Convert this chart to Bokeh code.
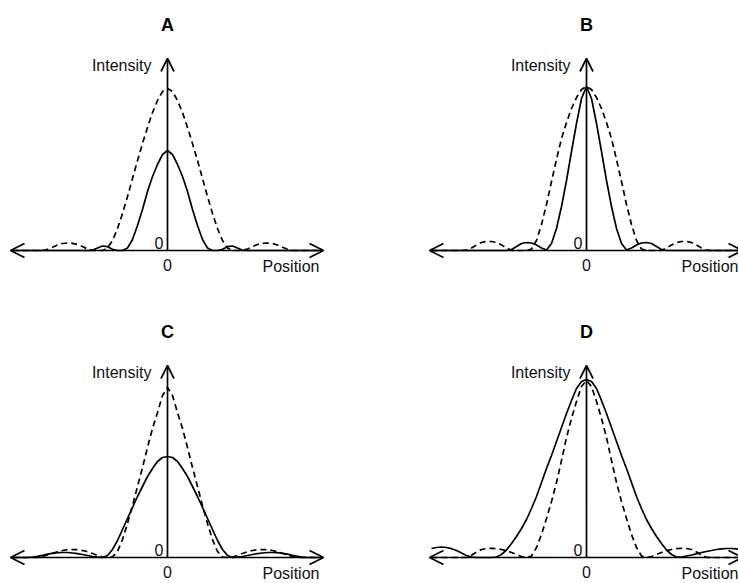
from bokeh.plotting import figure
from bokeh.models import Range1d, Arrow, OpenHead
from bokeh.layouts import gridplot
from bokeh.embed import file_html
from bokeh.resources import INLINE
from bokeh.core.properties import value

# ---------------- data ----------------
panel_labels = ["A", "B", "C", "D"]
x_axis_label = "Position"
y_axis_label = "Intensity"
zero_label = "0"

# distance from the central axis (position units); curves are symmetric
offset = [0, 0.5, 1.0, 1.5, 2.0, 2.5, 3.0, 3.5, 4.0, 4.5, 5.0, 5.5, 6.0, 6.5, 7.0, 7.5,
          8.0, 8.5, 9.0, 9.5, 10.0, 10.5, 11.0, 11.5, 12.0, 12.5, 13.0, 13.5, 14.0, 14.5, 15.0, 15.5]

a_dashed = [16.2, 15.9, 15.0, 13.8, 12.3, 10.7, 9.0, 7.2, 5.4, 3.7, 2.2, 1.0, 0.25, 0.0, 0.0, 0.02,
            0.15, 0.4, 0.6, 0.72, 0.75, 0.7, 0.55, 0.33, 0.12, 0.0, 0, 0, 0, 0, 0, 0]
a_solid = [10.0, 9.6, 8.6, 7.4, 5.9, 4.1, 2.5, 1.1, 0.25, 0.0, 0.0, 0.12, 0.38, 0.45, 0.25, 0.02,
           0, 0, 0, 0, 0, 0, 0, 0, 0, 0, 0, 0, 0, 0, 0, 0]

b_dashed = [16.4, 16.1, 15.3, 14.2, 12.8, 11.2, 9.1, 6.9, 4.6, 2.6, 1.0, 0.15, 0, 0, 0, 0.02,
            0.25, 0.55, 0.8, 0.9, 0.9, 0.8, 0.55, 0.25, 0.03, 0, 0, 0, 0, 0, 0, 0]
b_solid = [16.4, 15.2, 12.7, 9.9, 7.0, 4.4, 2.2, 0.7, 0.05, 0.25, 0.55, 0.75, 0.8, 0.7, 0.4, 0.1,
           0, 0, 0, 0, 0, 0, 0, 0, 0, 0, 0, 0, 0, 0, 0, 0]

c_dashed = [17.0, 16.2, 14.5, 12.9, 11.0, 9.0, 7.1, 5.2, 3.4, 1.8, 0.6, 0.05, 0, 0.05, 0.2, 0.4,
            0.58, 0.7, 0.78, 0.8, 0.78, 0.7, 0.58, 0.42, 0.25, 0.1, 0.02, 0, 0, 0, 0, 0]
c_solid = [10.1, 10.0, 9.6, 8.9, 8.1, 7.1, 6.1, 5.0, 3.9, 2.8, 1.7, 0.8, 0.2, 0.0, 0.03, 0.1,
           0.2, 0.3, 0.38, 0.45, 0.5, 0.5, 0.48, 0.42, 0.33, 0.22, 0.12, 0.04, 0, 0, 0, 0]

d_dashed = [17.7, 17.1, 15.6, 13.9, 12.0, 9.7, 7.5, 5.6, 3.9, 2.3, 1.0, 0.15, 0, 0.1, 0.3, 0.5,
            0.68, 0.8, 0.88, 0.92, 0.9, 0.8, 0.55, 0.22, 0.02, 0, 0, 0, 0, 0, 0, 0]
d_solid = [17.8, 17.6, 16.9, 15.7, 14.4, 13.0, 11.6, 10.2, 8.9, 7.5, 6.1, 4.9, 3.8, 2.9, 2.1, 1.4,
           0.75, 0.3, 0.05, 0.05, 0.15, 0.25, 0.37, 0.5, 0.6, 0.7, 0.8, 0.87, 0.9, 0.9, 0.86, 0.8]
# the left-hand tail of the solid curve in D differs from the right-hand one
d_solid_left = [17.8, 17.6, 16.9, 15.7, 14.4, 13.0, 11.6, 10.2, 8.9, 7.5, 6.1, 4.9, 3.8, 2.9, 2.1, 1.4,
                0.75, 0.3, 0.05, 0, 0, 0, 0, 0.05, 0.2, 0.45, 0.7, 0.88, 1.0, 1.05, 1.0, 0.9]

# ---------------- drawing ----------------
FONT = value("Liberation Sans")
LW = 1.7
TXT = "#111111"


def full(left, right):
    xs = [-o for o in reversed(offset)] + offset[1:]
    ys = list(reversed(left)) + right[1:]
    return xs, ys


def panel(label, dashed, solid_right, solid_left, width, height, ox, oy):
    p = figure(width=width, height=height, output_backend="svg", toolbar_location=None,
               x_range=Range1d(-ox / 10, (width - ox) / 10),
               y_range=Range1d(-(height - oy) / 10, oy / 10),
               x_axis_type=None, y_axis_type=None, min_border=0)
    p.outline_line_color = None
    p.grid.visible = False
    p.background_fill_color = "white"
    p.border_fill_color = "white"

    xs, ys = full(dashed, dashed)
    p.line(xs, ys, line_color="black", line_width=LW, line_dash="6 4")
    xs, ys = full(solid_left, solid_right)
    p.line(xs, ys, line_color="black", line_width=LW)

    p.add_layout(Arrow(start=OpenHead(size=14, line_width=LW, line_color="black"),
                       end=OpenHead(size=14, line_width=LW, line_color="black"),
                       x_start=-15.7, y_start=0, x_end=15.6, y_end=0,
                       line_width=LW, line_color="black"))
    p.add_layout(Arrow(start=None,
                       end=OpenHead(size=13, line_width=LW, line_color="black"),
                       x_start=0, y_start=0, x_end=0, y_end=19.2,
                       line_width=LW, line_color="black"))

    p.text(x=[0], y=[22.55], text=[label], text_font=FONT, text_font_size="18px",
           text_font_style="bold", text_align="center", text_baseline="alphabetic",
           text_color="black")
    p.text(x=[-1.6], y=[18.55], text=[y_axis_label], text_font=FONT, text_font_size="16px",
           text_align="right", text_baseline="alphabetic", text_color=TXT)
    p.text(x=[-0.4], y=[0.75], text=[zero_label], text_font=FONT, text_font_size="16px",
           text_align="right", text_baseline="alphabetic", text_color=TXT)
    p.text(x=[0], y=[-1.4], text=[zero_label], text_font=FONT, text_font_size="16px",
           text_align="center", text_baseline="alphabetic", text_color=TXT)
    p.text(x=[9.5], y=[-1.55], text=[x_axis_label], text_font=FONT, text_font_size="16px",
           text_align="left", text_baseline="alphabetic", text_color=TXT)
    return p


pa = panel(panel_labels[0], a_dashed, a_solid, a_solid, 369, 290, 167, 250)
pb = panel(panel_labels[1], b_dashed, b_solid, b_solid, 369, 290, 217, 250)
pc = panel(panel_labels[2], c_dashed, c_solid, c_solid, 369, 293, 167, 267)
pd = panel(panel_labels[3], d_dashed, d_solid, d_solid_left, 369, 293, 217, 267)

grid = gridplot([[pa, pb], [pc, pd]], toolbar_location=None)

open("out.html", "w").write(file_html(grid, INLINE))
